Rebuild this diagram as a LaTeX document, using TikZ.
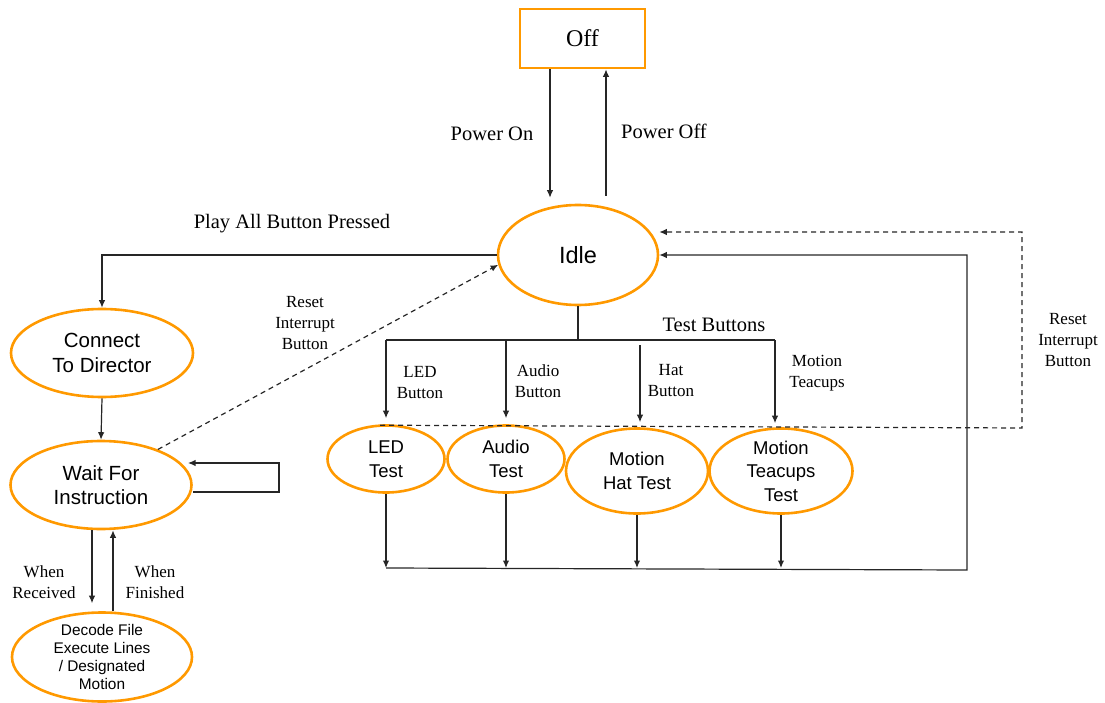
\documentclass[tikz,border=0pt]{standalone}
\usepackage{fontspec}
\setmainfont{Liberation Serif}
\setsansfont{Liberation Sans}
\usetikzlibrary{shapes.geometric,arrows.meta,calc}

\definecolor{stateorange}{RGB}{255,153,0}

\newcommand{\fs}[2]{\fontsize{#1}{#2}\selectfont}

\tikzset{
  state/.style={ellipse, draw=stateorange, line width=2.6pt, inner sep=-40pt,
                align=center, font=\sffamily\fs{18.5}{23.5}},
  offbox/.style={rectangle, draw=stateorange, line width=2.8pt, inner sep=0pt,
                 minimum width=125pt, minimum height=59pt, font=\fs{24}{28}},
  biglbl/.style={font=\fs{20.5}{24}, inner sep=0pt},
  smalllbl/.style={font=\fs{17}{21}, align=center, inner sep=0pt},
  wire/.style={line width=1.2pt, draw=black!85},
  arr/.style={wire, -{Latex[length=7.5pt,width=6.5pt]}},
  darr/.style={arr, dash pattern=on 5pt off 4pt},
}

\begin{document}
\begin{tikzpicture}[x=1pt, y=-1pt]
\useasboundingbox (0,0) rectangle (1105,703);

% ---- states ----
\node[offbox] (off) at (582.5,38.5) {Off};
\node[state, minimum width=160pt, minimum height=100pt, font=\sffamily\fs{23.5}{27}] (idle) at (578,255) {Idle};
\node[state, minimum width=182pt, minimum height=88pt, font=\sffamily\fs{20.5}{24.5}] (connect) at (102,353) {Connect\\To Director};
\node[state, minimum width=181pt, minimum height=88pt, font=\sffamily\fs{20.5}{24.5}] (wait) at (101,485) {Wait For\\Instruction};
\node[state, minimum width=180pt, minimum height=89pt, font=\sffamily\fs{15.4}{18.3}] (decode) at (102,657) {Decode File\\Execute Lines\\/ Designated\\Motion};
\node[state, minimum width=117pt, minimum height=67pt] (ledt) at (386,459) {LED\\Test};
\node[state, minimum width=117pt, minimum height=67pt] (audt) at (506,459) {Audio\\Test};
\node[state, minimum width=142pt, minimum height=85pt] (hatt) at (637,471) {Motion\\Hat Test};
\node[state, minimum width=143pt, minimum height=85pt] (teat) at (781,471) {Motion\\Teacups\\Test};

% ---- helper points ----
\coordinate (bus) at (578,340);
\coordinate (sumL) at (386,568);
\coordinate (sumR) at (967,570);
\coordinate (loopR) at (279,492);
\coordinate (loopIn) at (188,463);
\coordinate (rstR) at (1022,428);
\coordinate (rstTop) at (1022,232);

% ---- power on / off ----
\draw[arr] ([xshift=-32.5pt]off.south) -- ([xshift=-28pt,yshift=6pt]idle.north);
\draw[arr] ([xshift=28pt,yshift=8pt]idle.north) -- ([xshift=23.5pt]off.south);
\node[biglbl] (lpon) at (492,134) {Power On};
\node[biglbl] (lpoff) at (664,131) {Power Off};

% ---- play all ----
\draw[arr] (idle.west) -| (connect.north);
\node[biglbl] (lplay) at (292,224) {Play All Button Pressed};

% ---- left column ----
\draw[arr] (connect.south) -- (wait.north);
\draw[arr] ([yshift=-7pt]wait.east) -- (loopR) -- (loopR |- loopIn) -- (loopIn);
\draw[arr] ([xshift=-9pt]wait.south) -- ([xshift=-10pt,yshift=8pt]decode.north);
\draw[arr] ([xshift=11pt]decode.north) -- ([xshift=12pt]wait.south);
\node[smalllbl] (lrecv) at (44,582) {When\\Received};
\node[smalllbl] (lfin) at (155,582) {When\\Finished};

% ---- reset from wait ----
\draw[darr] (wait.32) -- (idle.187);
\node[smalllbl] (lreset1) at (305,323) {Reset\\Interrupt\\Button};

% ---- test buttons ----
\draw[wire] (idle.south) -- (bus);
\draw[wire] (ledt.north |- bus) -- ([xshift=-6pt]teat.north |- bus);
\draw[arr] (ledt.north |- bus) -- ([yshift=6pt]ledt.north);
\draw[arr] (audt.north |- bus) -- ([yshift=6pt]audt.north);
\draw[arr] ($(hatt.north |- bus)+(3,5)$) -- ([xshift=3pt,yshift=5pt]hatt.north);
\draw[arr] ([xshift=-6pt]teat.north |- bus) -- ([xshift=-6pt,yshift=4pt]teat.north);
\node[biglbl] (ltb) at (714,325) {Test Buttons};
\node[smalllbl] (lled) at (420,383) {LED\\Button};
\node[smalllbl] (laud) at (538,381) {Audio\\Button};
\node[smalllbl] (lhat) at (671,381) {Hat\\Button};
\node[smalllbl] (ltea) at (817,373) {Motion\\Teacups};

% ---- tests return to idle ----
\draw[arr] (ledt.south) -- (ledt.south |- sumL);
\draw[arr] (audt.south) -- (audt.south |- sumL);
\draw[arr] (hatt.south) -- (hatt.south |- sumL);
\draw[arr] (teat.south) -- (teat.south |- sumL);
\draw[arr] (sumL) -- (sumR) -- (sumR |- idle.east) -- (idle.east);

% ---- reset from tests ----
\draw[darr] ([xshift=-6pt,yshift=-1pt]ledt.north) -- (rstR) -- (rstTop) -- (rstTop -| idle.east);
\node[smalllbl] (lreset2) at (1068,340) {Reset\\Interrupt\\Button};
\end{tikzpicture}
\end{document}
